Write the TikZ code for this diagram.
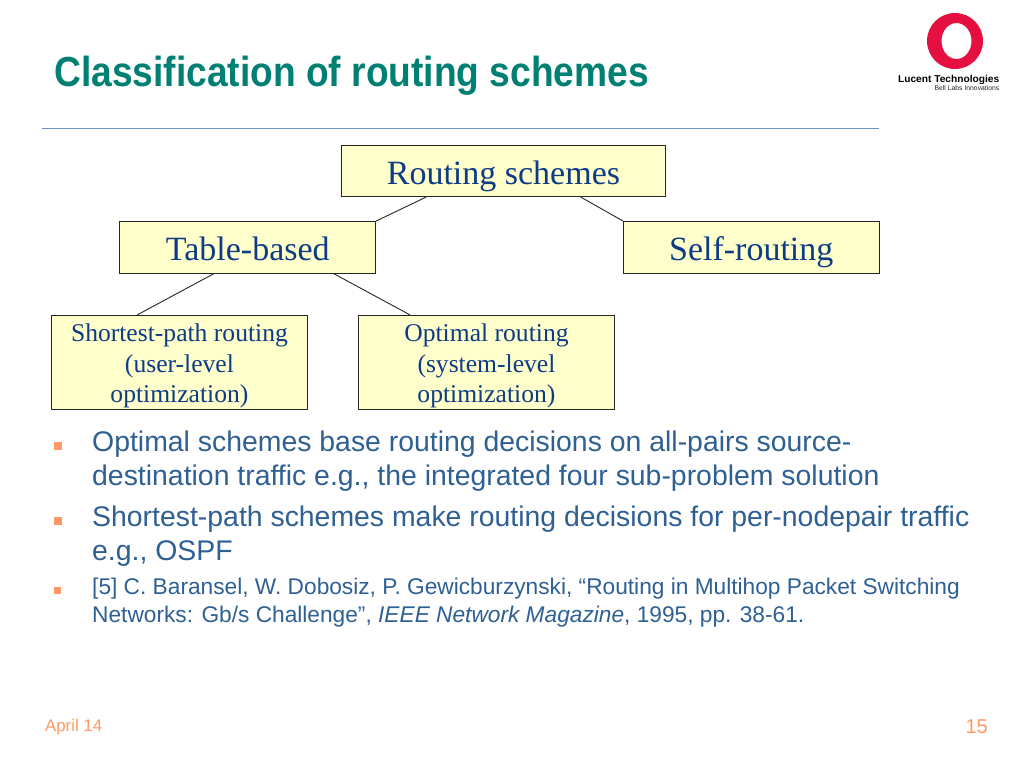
\documentclass[tikz,border=0pt]{standalone}
\usepackage{fontspec}
\setmainfont{Liberation Serif}
\setsansfont{Liberation Sans}
\usetikzlibrary{calc}
\definecolor{titleteal}{HTML}{007F73}
\definecolor{bodyblue}{HTML}{2F6093}
\definecolor{boxblue}{HTML}{0D3B85}
\definecolor{boxfill}{HTML}{FFFFCC}
\definecolor{bulletor}{HTML}{FF9966}
\definecolor{rulec}{HTML}{6F93BC}
\definecolor{logored}{HTML}{E5103F}
\tikzset{
  x=1pt,y=-1pt,
  boxbase/.style={draw=black!85,line width=0.9pt,fill=boxfill,text=boxblue,inner sep=0pt,align=center,anchor=north west},
  bigbox/.style={boxbase,minimum height=51.5pt,text height=30pt,text depth=3.5pt,font=\fontsize{34}{38}\selectfont},
  smallbox/.style={boxbase,minimum width=256pt,minimum height=94pt,font=\fontsize{25.6}{30.5}\selectfont},
  link/.style={draw=black!85,line width=0.9pt},
  bodytext/.style={anchor=north west,inner sep=0pt,align=left,text=bodyblue,font=\sffamily\fontsize{28.4}{34}\selectfont},
  reftext/.style={anchor=north west,inner sep=0pt,align=left,text=bodyblue,font=\sffamily\fontsize{22.7}{28}\selectfont},
  bulletmark/.style={fill=bulletor,inner sep=0pt,minimum size=#1},
}
\newcommand{\firstline}{\rule{0pt}{25pt}}
\begin{document}
\begin{tikzpicture}
\useasboundingbox (0,0) rectangle (1024,768);
\fill[white] (0,0) rectangle (1024,768);

% title and rule
\node[anchor=base west,inner sep=0pt,text=titleteal,font=\sffamily\bfseries\fontsize{42}{46}\selectfont,xscale=0.885,transform shape] (title) at (54,86.5) {Classification of routing schemes};
\coordinate (ruleL) at (42,128);
\coordinate (ruleR) at (879,128);
\draw[rulec,line width=1pt] (ruleL) -- (ruleR);

% logo
\fill[logored,even odd rule] (955,41) ellipse [x radius=28,y radius=28]
  (956.5,41) ellipse [x radius=15,y radius=18];
\node[anchor=base east,inner sep=0pt,font=\sffamily\bfseries\fontsize{10}{12}\selectfont,text=black,xscale=1.02,transform shape] (lucent) at (999.5,82) {Lucent Technologies};
\node[anchor=base east,inner sep=0pt,font=\sffamily\fontsize{6.8}{8}\selectfont,text=black!85] (bell) at (999.5,90) {Bell Labs Innovations};

% boxes
\node[bigbox,minimum width=324pt] (root) at (341,144.7) {Routing schemes};
\node[bigbox,minimum width=256pt] (table) at (119.3,221) {Table-based};
\node[bigbox,minimum width=255.6pt] (self) at (623,221) {Self-routing};
\node[smallbox] (short) at (51,315) {\firstline Shortest-path routing\\(user-level\\optimization)};
\node[smallbox] (optimal) at (358,315) {\firstline Optimal routing\\(system-level\\optimization)};

% connectors
\draw[link] ($(root.south west)!0.262!(root.south east)$) -- (table.north east);
\draw[link] ($(root.south west)!0.738!(root.south east)$) -- (self.north west);
\draw[link] ($(table.south west)!0.37!(table.south east)$) -- ($(short.north west)!0.335!(short.north east)$);
\draw[link] ($(table.south west)!0.833!(table.south east)$) -- ($(optimal.north west)!0.203!(optimal.north east)$);

% bullets
\node[bulletmark=8pt] (b1) at (58,446) {};
\node[bulletmark=8pt] (b2) at (58,521) {};
\node[bulletmark=7pt] (b3) at (57.5,590) {};
\node[bodytext] (t1) at (92,431) {Optimal schemes base routing decisions on all-pairs source-\\destination traffic e.g., the integrated four sub-problem solution};
\node[bodytext] (t2) at (92,506) {Shortest-path schemes make routing decisions for per-nodepair traffic\\e.g., OSPF};
\node[reftext] (t3) at (92,578) {[5] C. Baransel, W. Dobosiz, P. Gewicburzynski, “Routing in Multihop Packet Switching\\Networks: Gb/s Challenge”, \textit{IEEE Network Magazine}, 1995, pp. 38-61.};

% footer
\node[anchor=base west,inner sep=0pt,text=bulletor,font=\sffamily\fontsize{16.8}{20}\selectfont] (date) at (45,731) {April 14};
\node[anchor=base east,inner sep=0pt,text=bulletor,font=\sffamily\fontsize{20}{24}\selectfont] (page) at (988,733) {15};
\end{tikzpicture}
\end{document}
